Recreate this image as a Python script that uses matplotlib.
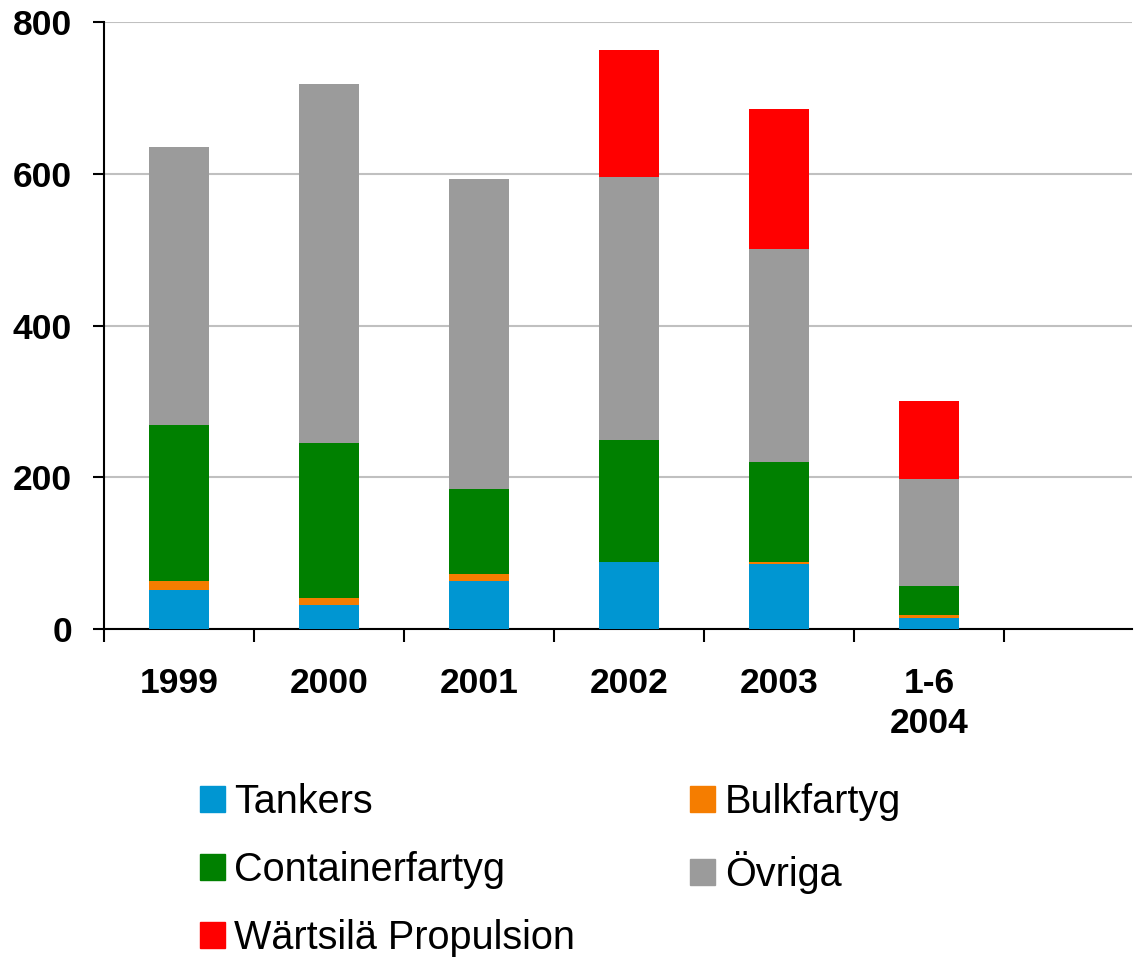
"""Fartygsorder per år - staplat stapeldiagram"""

import matplotlib.pyplot as plt
from matplotlib.patches import Patch

plt.rcParams["font.family"] = ["Liberation Sans", "DejaVu Sans"]

# Data
kategorier = ["1999", "2000", "2001", "2002", "2003", "1-6\n2004", ""]
tankers = [51, 32, 63, 88, 86, 15, 0]
bulkfartyg = [12, 9, 9, 0, 3, 3, 0]
containerfartyg = [206, 204, 113, 161, 131, 39, 0]
ovriga = [366, 473, 408, 347, 281, 141, 0]
wartsila = [0, 0, 0, 167, 184, 102, 0]

serier = ["Tankers", "Bulkfartyg", "Containerfartyg", "Övriga", "Wärtsilä Propulsion"]
farger = ["#0096D2", "#F57D00", "#008000", "#9B9B9B", "#FF0000"]

# Creació de la figura
fig = plt.figure(figsize=(11.38, 9.57), dpi=100)
ax = fig.add_axes([0.0914, 0.3427, 0.903, 0.6343])

x = list(range(len(kategorier)))
bas = [0] * len(x)
for namn, varden, farg in zip(serier, [tankers, bulkfartyg, containerfartyg, ovriga, wartsila], farger):
    ax.bar(x, varden, width=0.4, bottom=bas, color=farg, label=namn, zorder=3)
    bas = [b + v for b, v in zip(bas, varden)]

# Axlar
ax.set_ylim(0, 800)
ax.set_yticks([0, 200, 400, 600, 800])
ax.set_xlim(-0.5, 6.35)
ax.set_xticks([i - 0.5 for i in range(7)])
ax.set_xticklabels([])
ax.set_xticks(x[:6], minor=True)
ax.set_xticklabels(kategorier[:6], minor=True)
ax.tick_params(axis="x", which="minor", length=0, pad=27, labelsize=25.5)
ax.tick_params(axis="x", which="major", length=9, width=1.5, direction="out")
ax.tick_params(axis="y", length=8, width=1.5, direction="out", labelsize=25.5, pad=15)
for lbl in ax.get_xticklabels(minor=True) + ax.get_yticklabels():
    lbl.set_fontweight("bold")
    lbl.set_linespacing(1.3)

ax.spines["top"].set_visible(False)
ax.spines["right"].set_visible(False)
ax.spines["left"].set_linewidth(1.5)
ax.spines["bottom"].set_linewidth(1.5)
ax.grid(axis="y", color="#C0C0C0", linewidth=1.5, zorder=0)

# Förklaring
handtag = [Patch(color=f, label=s) for s, f in zip(serier, farger)]
ordning = [0, 2, 4, 1, 3]
fig.legend(
    [handtag[i] for i in ordning],
    [serier[i] for i in ordning],
    loc="upper left",
    bbox_to_anchor=(0.158, 0.2025),
    ncol=2,
    frameon=False,
    fontsize=28.5,
    borderpad=0,
    handlelength=0.63,
    handleheight=0.63,
    handletextpad=0.25,
    columnspacing=2.9,
    labelspacing=0.76,
)

plt.savefig("out.png", dpi=100)
plt.close(fig)
